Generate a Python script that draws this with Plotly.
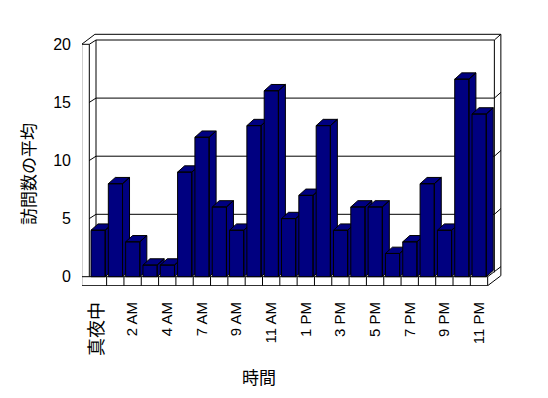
import plotly.graph_objects as go

# ---- data ----
hours = ["真夜中", "1 AM", "2 AM", "3 AM", "4 AM", "6 AM", "7 AM", "8 AM", "9 AM",
         "10 AM", "11 AM", "12 PM", "1 PM", "2 PM", "3 PM", "4 PM", "5 PM",
         "6 PM", "7 PM", "8 PM", "9 PM", "10 PM", "11 PM"]
visits = [4, 8, 3, 1, 1, 9, 12, 6, 4, 13, 16, 5, 7, 13, 4, 6, 6, 2, 3, 8, 4, 17, 14]
y_ticks = [0, 5, 10, 15, 20]
x_title = "時間"
y_title = "訪問数の平均"

# ---- geometry (pixel layout of the pseudo-3D box) ----
PAGE = 8             # default body margin of the html page
W, H = 548 - PAGE, 398 - PAGE
ML, MR, MT, MB = 82 - PAGE, 44, 30 - PAGE, 112
PXX = 17.32          # px per category
PXY = 11.62          # px per value unit
X0PX = 89.3 - PAGE   # px position of x = -0.5 (front inner left)
Y0PX = 276.7 - PAGE  # px position of y = 0

n = len(hours)
xrange_ = [-0.5 - (X0PX - ML) / PXX, -0.5 + (W - MR - X0PX) / PXX]
yrange_ = [-(H - MB - Y0PX) / PXY, (Y0PX - MT) / PXY]


def dx(px):
    return px / PXX


def dy(px):
    return px / PXY


fig = go.Figure()

line = dict(color="black", width=1)
shapes = []


def seg(x0, y0, x1, y1):
    shapes.append(dict(type="line", xref="x", yref="y", x0=x0, y0=y0, x1=x1, y1=y1,
                       line=line, layer="below"))


xl_in = -0.5
xr_front = n - 0.5
ytop = y_ticks[-1]
wall_t = dx(7.6)            # left wall thickness
di_x, di_y = dx(6.7), dy(4.3)   # inner depth (front -> back wall face)
do_x, do_y = dx(13.2), dy(10.0)  # outer depth (front -> back wall outer)
floor_t = dy(9.0)

# left wall
seg(xl_in - wall_t, ytop, xl_in - wall_t, -floor_t)
seg(xl_in, ytop, xl_in, 0)
seg(xl_in - wall_t, ytop, xl_in, ytop)
seg(xl_in - wall_t, ytop, xl_in - wall_t + do_x, ytop + do_y)
seg(xl_in, ytop, xl_in + di_x, ytop + di_y)
# back wall inner face
bx_l = xl_in + di_x
bx_r = xr_front + di_x
seg(bx_l, ytop + di_y, bx_l, 0)
seg(bx_l, ytop + di_y, bx_r, ytop + di_y)
seg(bx_r, ytop + di_y, bx_r, di_y)
# back wall outer
ox_r = xr_front + do_x
seg(xl_in - wall_t + do_x, ytop + do_y, ox_r, ytop + do_y)
seg(ox_r, ytop + do_y, ox_r, do_y - floor_t)
seg(bx_r, ytop + di_y, ox_r, ytop + do_y)
# gridlines
for v in y_ticks[1:-1]:
    seg(xl_in, v, bx_l, v + di_y)
    seg(bx_l, v + di_y, bx_r, v + di_y)
    seg(bx_r, v + di_y, ox_r, v + do_y)
# floor front face
seg(xl_in - wall_t, 0, xr_front, 0)
seg(xl_in - wall_t, -floor_t, xr_front, -floor_t)
for k in range(1, n + 1):
    seg(k - 0.5, 0, k - 0.5, -floor_t)
# floor right face
seg(xr_front, 0, ox_r, do_y)
seg(xr_front, -floor_t, ox_r, do_y - floor_t)

# ---- bars (front, side, top faces) ----
off = dx(1.7)
bw = dx(14.2)
bdx, bdy = dx(7.0), dy(6.3)
for i, v in enumerate(visits):
    xl = i - 0.5 + off
    xr = xl + bw
    xs = [xl, xr, xr, xl, xl, None,
          xr, xr + bdx, xr + bdx, xr, xr, None,
          xl, xr, xr + bdx, xl + bdx, xl]
    ys = [0, 0, v, v, 0, None,
          0, bdy, v + bdy, v, 0, None,
          v, v, v + bdy, v + bdy, v]
    fig.add_trace(go.Scatter(x=xs, y=ys, mode="lines", fill="toself",
                             fillcolor="#000080", line=dict(color="black", width=1),
                             hoverinfo="skip", showlegend=False))

tick_text = []
for h in hours[::2]:
    if h == "真夜中":
        tick_text.append('<span style="font-size:18px">' + h + '</span>')
    else:
        tick_text.append(h)


def fx(px):
    return (px - PAGE - ML) / (W - ML - MR)


def fy(py):
    return (H - MB - (py - PAGE)) / (H - MT - MB)


fig.update_layout(
    width=W, height=H,
    margin=dict(l=ML, r=MR, t=MT, b=MB, pad=0),
    paper_bgcolor="white", plot_bgcolor="white",
    shapes=shapes,
    showlegend=False,
    font=dict(family="Liberation Sans, Arial, Noto Sans CJK JP", color="black"),
    xaxis=dict(range=xrange_, tickvals=list(range(0, n, 2)), ticktext=tick_text,
               tickangle=-90, tickfont=dict(size=15, family="Liberation Sans, Noto Sans CJK JP"),
               showgrid=False, zeroline=False, showline=False, ticks="",
               ticklabelstandoff=12, fixedrange=True, automargin=False),
    yaxis=dict(range=yrange_, tickvals=y_ticks, tickfont=dict(size=16),
               showgrid=False, zeroline=False, showline=False, ticks="",
               ticklabelstandoff=10, fixedrange=True, automargin=False),
    annotations=[
        dict(text=x_title, xref="paper", yref="paper", x=fx(259), y=fy(376),
             xanchor="center", yanchor="middle",
             showarrow=False, font=dict(size=17, family="Noto Sans CJK JP")),
        dict(text=y_title, xref="paper", yref="paper", x=fx(27), y=fy(174),
             xanchor="center", yanchor="middle",
             showarrow=False, textangle=-90, font=dict(size=17, family="Noto Sans CJK JP")),
    ],
)

fig.write_html("out.html")
